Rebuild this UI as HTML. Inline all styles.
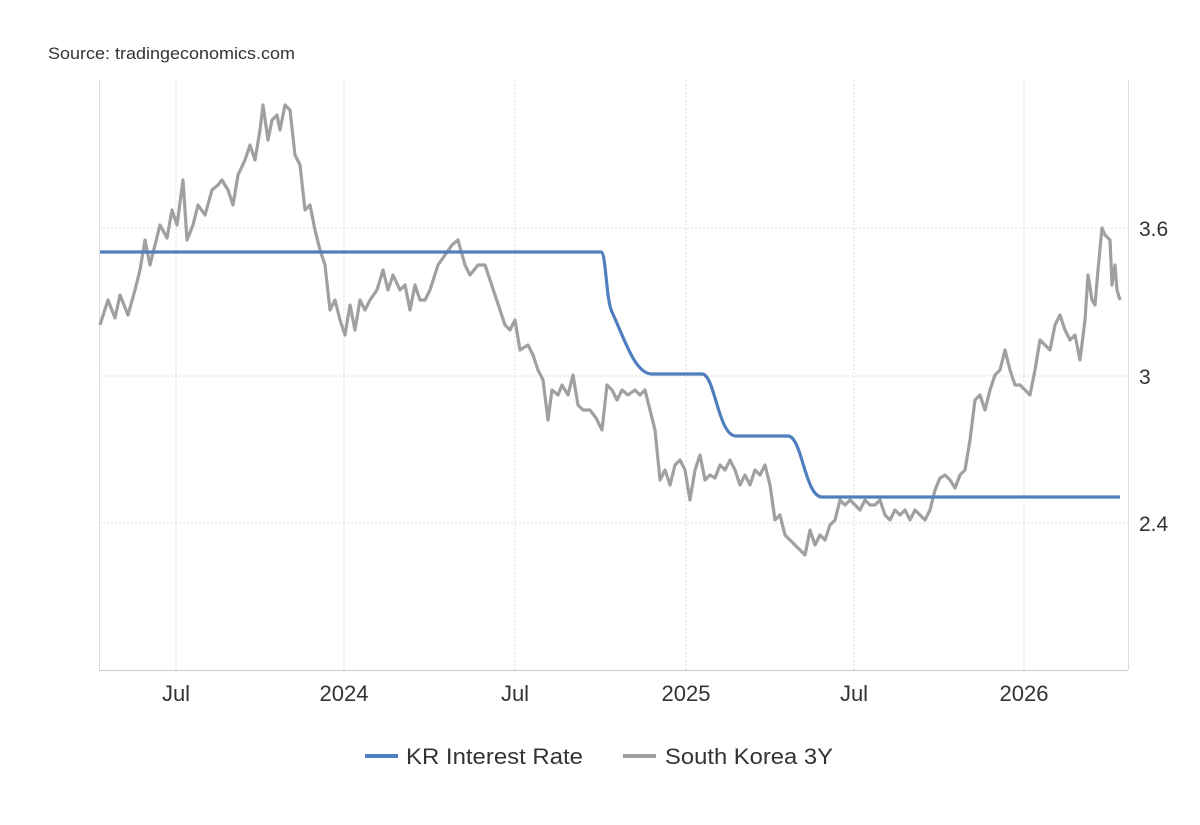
<!DOCTYPE html>
<html><head><style>
body{margin:0;background:#fff;width:1200px;height:820px;overflow:hidden;font-family:"Liberation Sans",Arial,sans-serif}
</style></head><body>
<svg width="1200" height="820" xmlns="http://www.w3.org/2000/svg" font-family="Liberation Sans, Arial, sans-serif">
<text x="48" y="59" font-size="17" fill="#333" textLength="247" lengthAdjust="spacingAndGlyphs">Source: tradingeconomics.com</text>
<g stroke="#ddd" stroke-dasharray="2,2" stroke-width="1">
<line x1="176" y1="80" x2="176" y2="670"/><line x1="344" y1="80" x2="344" y2="670"/>
<line x1="515" y1="80" x2="515" y2="670"/><line x1="686" y1="80" x2="686" y2="670"/>
<line x1="854" y1="80" x2="854" y2="670"/><line x1="1024" y1="80" x2="1024" y2="670"/>
<line x1="99" y1="228" x2="1128" y2="228"/><line x1="99" y1="376" x2="1128" y2="376"/>
<line x1="99" y1="523" x2="1128" y2="523"/>
</g>
<line x1="99.5" y1="80" x2="99.5" y2="670" stroke="#ddd"/>
<line x1="1128.5" y1="80" x2="1128.5" y2="670" stroke="#ddd"/>
<line x1="99" y1="670.5" x2="1128" y2="670.5" stroke="#ccc"/>
<g font-size="21" fill="#333">
<text x="1139" y="236">3.6</text><text x="1139" y="384">3</text><text x="1139" y="531">2.4</text>
</g>
<g font-size="22" fill="#333" text-anchor="middle">
<text x="176" y="701">Jul</text><text x="344" y="701">2024</text><text x="515" y="701">Jul</text>
<text x="686" y="701">2025</text><text x="854" y="701">Jul</text><text x="1024" y="701">2026</text>
</g>
<polyline fill="none" stroke="#a0a0a0" stroke-width="3.2" stroke-linejoin="round" points="100,325 108,300 115,318 120,295 128,315 135,290 140,270 145,240 150,265 155,245 160,225 167,238 172,210 177,225 183,180 187,240 193,225 198,205 205,215 212,190 218,185 222,180 228,190 233,205 238,175 245,160 250,145 255,160 260,130 263,105 268,140 272,120 277,115 280,130 285,105 290,110 295,155 300,165 305,210 310,205 315,230 320,250 325,265 330,310 335,300 340,320 345,335 350,305 355,330 360,300 365,310 370,300 377,290 383,270 388,290 393,275 400,290 405,285 410,310 415,285 420,300 425,300 430,290 438,265 445,255 452,245 458,240 465,265 470,275 478,265 485,265 490,280 495,295 500,310 505,325 510,330 515,320 520,350 528,345 533,355 538,370 543,380 548,420 552,390 558,395 562,385 568,395 573,375 578,405 583,410 590,410 596,418 602,430 607,385 612,390 617,400 622,390 628,395 635,390 640,395 645,390 650,410 655,430 660,480 665,470 670,485 675,465 680,460 685,470 690,500 695,470 700,455 705,480 710,475 715,478 720,465 725,470 730,460 735,470 740,485 745,475 750,485 755,470 760,475 765,465 770,485 775,520 780,515 785,535 790,540 795,545 800,550 805,555 810,530 815,545 820,535 825,540 830,525 835,520 840,500 845,505 850,500 855,505 860,510 865,500 870,505 875,505 880,500 885,515 890,520 895,510 900,515 905,510 910,520 915,510 920,515 925,520 930,510 935,490 940,478 945,475 950,480 955,488 960,475 965,470 970,440 975,400 980,395 985,410 990,390 995,375 1000,370 1005,350 1010,370 1015,385 1020,385 1025,390 1030,395 1035,370 1040,340 1045,345 1050,350 1055,325 1060,315 1065,330 1070,340 1075,335 1080,360 1085,320 1088,275 1092,300 1095,305 1098,270 1102,228 1105,235 1110,240 1112,285 1115,265 1117,290 1120,300"/>
<path fill="none" stroke="#4f7fbf" stroke-width="3.2" d="M100,252 L601,252 C606,252 606,300 612,312 C625,340 635,374 652,374 L702,374 C715,374 718,436 736,436 L788,436 C802,436 805,497 822,497 L1120,497"/>
<line x1="365" y1="756" x2="398" y2="756" stroke="#4f7fbf" stroke-width="4"/>
<text x="406" y="764" font-size="22" fill="#333" textLength="177" lengthAdjust="spacingAndGlyphs">KR Interest Rate</text>
<line x1="623" y1="756" x2="656" y2="756" stroke="#a0a0a0" stroke-width="4"/>
<text x="665" y="764" font-size="22" fill="#333" textLength="168" lengthAdjust="spacingAndGlyphs">South Korea 3Y</text>
</svg>
</body></html>
